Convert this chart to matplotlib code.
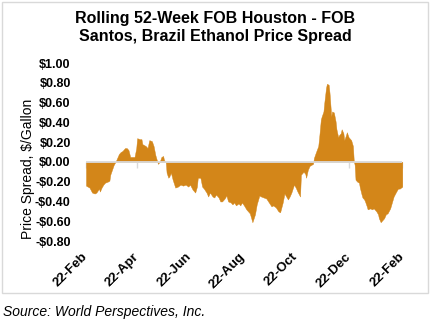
import matplotlib
matplotlib.use("Agg")
import matplotlib.pyplot as plt
from matplotlib.patches import Rectangle
import pandas as pd

plt.rcParams['font.family'] = ['Liberation Sans', 'DejaVu Sans']

# data (days since 22-Feb, spread in $/gallon)
start = pd.Timestamp("2022-02-22")
days = [0, 2, 4, 7, 10, 12, 15, 16, 18, 20,
        22, 25, 27, 28, 30, 32, 34, 35, 38, 40,
        42, 45, 47, 49, 51, 54, 56, 58, 59, 62,
        64, 65, 67, 69, 71, 73, 76, 78, 80, 82,
        83, 85, 87, 89, 90, 92, 93, 95, 96, 98,
        100, 103, 106, 109, 112, 115, 118, 120, 123, 126,
        128, 129, 132, 134, 136, 139, 141, 143, 146, 148,
        150, 153, 155, 157, 160, 162, 164, 167, 169, 171,
        173, 176, 178, 180, 183, 185, 187, 189, 192, 195,
        197, 200, 202, 205, 208, 211, 214, 216, 219, 222,
        224, 227, 229, 231, 233, 235, 237, 240, 242, 244,
        247, 248, 251, 253, 254, 256, 258, 260, 262, 263,
        265, 268, 269, 271, 272, 274, 275, 277, 278, 280,
        281, 283, 284, 286, 288, 289, 291, 292, 294, 295,
        297, 298, 300, 301, 303, 305, 306, 308, 309, 310,
        311, 313, 315, 316, 318, 319, 321, 322, 324, 325,
        328, 330, 332, 335, 337, 338, 340, 342, 344, 346,
        348, 351, 353, 355, 358, 360, 362, 365]
spread = [-0.24, -0.25, -0.26, -0.31, -0.32, -0.31, -0.27, -0.30, -0.26, -0.23,
          -0.21, -0.20, -0.19, -0.13, -0.08, -0.03, 0.00, 0.02, 0.08, 0.10,
          0.11, 0.14, 0.14, 0.12, 0.05, 0.05, 0.05, 0.14, 0.24, 0.23,
          0.23, 0.18, 0.17, 0.16, 0.14, 0.22, 0.21, 0.16, 0.07, 0.01,
          -0.02, 0.00, 0.05, 0.06, 0.02, 0.00, -0.11, -0.16, -0.15, -0.11,
          -0.18, -0.26, -0.25, -0.23, -0.24, -0.23, -0.25, -0.23, -0.28, -0.31,
          -0.25, -0.16, -0.16, -0.25, -0.27, -0.31, -0.35, -0.31, -0.35, -0.36,
          -0.33, -0.36, -0.40, -0.40, -0.37, -0.34, -0.40, -0.41, -0.43, -0.41,
          -0.44, -0.42, -0.44, -0.41, -0.45, -0.48, -0.50, -0.52, -0.61, -0.53,
          -0.43, -0.34, -0.35, -0.36, -0.37, -0.41, -0.45, -0.44, -0.46, -0.50,
          -0.51, -0.41, -0.32, -0.35, -0.38, -0.35, -0.31, -0.23, -0.26, -0.30,
          -0.35, -0.13, -0.10, -0.12, -0.16, -0.08, -0.04, -0.03, -0.02, 0.04,
          0.09, 0.16, 0.24, 0.43, 0.46, 0.51, 0.60, 0.75, 0.79, 0.78,
          0.70, 0.46, 0.51, 0.50, 0.41, 0.33, 0.25, 0.27, 0.29, 0.33,
          0.29, 0.22, 0.27, 0.30, 0.25, 0.23, 0.22, 0.16, 0.01, -0.03,
          -0.18, -0.20, -0.21, -0.26, -0.33, -0.36, -0.38, -0.40, -0.45, -0.48,
          -0.47, -0.48, -0.47, -0.50, -0.53, -0.57, -0.61, -0.59, -0.57, -0.53,
          -0.52, -0.47, -0.41, -0.35, -0.30, -0.27, -0.27, -0.25]
assert len(days) == len(spread)

tick_dates = ["2022-02-22", "2022-04-22", "2022-06-22", "2022-08-22",
              "2022-10-22", "2022-12-22", "2023-02-22"]
yticks = [1.0, 0.8, 0.6, 0.4, 0.2, 0.0, -0.2, -0.4, -0.6, -0.8]

fill_col = "#D38619"
grid_col = "#D9D9D9"

fig = plt.figure(figsize=(4.3, 3.21), dpi=100)
ax = fig.add_axes([0.2, 0.2492, 0.7356, 0.5545])

ax.fill_between(days, spread, 0, color=fill_col, lw=0.3, edgecolor=fill_col, zorder=2)
ax.axhline(0, color=grid_col, lw=1.3, zorder=3)

td = pd.to_datetime(tick_dates)
tpos = [(d - start).days for d in td]
tlab = [d.strftime("%d-%b") for d in td]

ax.set_xlim(0, tpos[-1])
ax.set_ylim(-0.8, 1.0)
ax.set_xticks(tpos)
ax.set_xticklabels(tlab, rotation=45, ha="right", va="center",
                   rotation_mode="anchor", fontsize=9.5, fontweight="bold")
ax.tick_params(axis="x", length=0, pad=10)
ax.set_yticks(yticks)
ax.set_yticklabels([("-$%.2f" % -v) if v < 0 else ("$%.2f" % v) for v in yticks],
                   fontsize=9, fontweight="bold")
ax.tick_params(axis="y", length=0, pad=11)
for s in ax.spines.values():
    s.set_visible(False)

# tick marks on the zero line
sec = ax.secondary_xaxis(0, transform=ax.transData)
sec.set_xticks(tpos)
sec.set_xticklabels([])
sec.tick_params(axis="x", length=4, width=1, color=grid_col, direction="out")
sec.spines["bottom"].set_visible(False)

fig.text(27.7 / 430, 0.475, "Price Spread, $/Gallon", rotation=90, ha="center", va="center",
         fontsize=10)

fig.text(0.5, 1 - 18 / 321, "Rolling 52-Week FOB Houston - FOB",
         ha="center", va="center", fontsize=11.5, fontweight="bold")
fig.text(0.5, 1 - 37 / 321, "Santos, Brazil Ethanol Price Spread",
         ha="center", va="center", fontsize=11.5, fontweight="bold")

fig.patches.append(Rectangle((2 / 430, 1 - 293 / 321), 426 / 430, 291 / 321,
                             transform=fig.transFigure, fill=False,
                             edgecolor=grid_col, lw=1))

fig.text(3 / 430, 1 - 312 / 321, "Source: World Perspectives, Inc.", ha="left", va="center",
         fontsize=10, style="italic")

fig.savefig("out.png", dpi=100)
